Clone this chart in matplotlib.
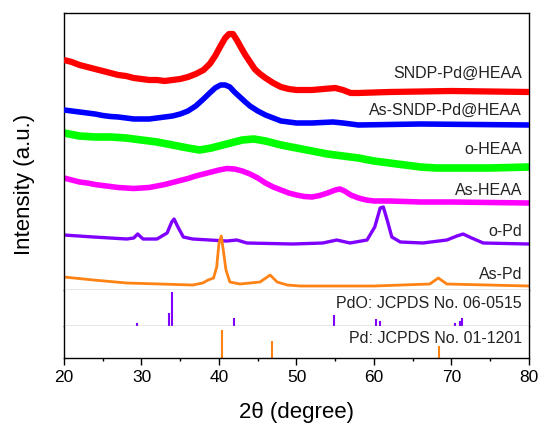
import matplotlib.pyplot as plt

plt.rcParams['font.family'] = ['Liberation Sans', 'DejaVu Sans']

# SNDP-Pd@HEAA (red)
red_x = [20, 21, 22, 23, 24, 25, 26, 27, 28, 29, 30, 31, 32, 33, 34, 35, 36, 37, 38, 38.8,
         39.5, 40.2, 40.8, 41.3, 41.8, 42.3, 42.8, 43.4, 44, 44.6, 45.3, 46, 47, 48, 49, 50,
         52, 53.5, 55, 56, 57, 58, 62, 70, 80]
red_y = [230, 228, 225, 223, 221, 219, 217, 215, 214, 212, 211, 210, 210, 209, 210, 211, 213,
         216, 220, 226, 234, 244, 252, 256, 256, 250, 243, 235, 228, 221, 216, 212, 207, 203,
         201, 200, 200, 201, 202, 200, 197, 197, 198, 199, 198]

# As-SNDP-Pd@HEAA (blue)
blue_x = [20, 21, 22, 23, 24, 25, 26, 27, 28, 29, 30, 31, 32, 33, 34, 35, 36, 37, 38, 38.8,
          39.5, 40.2, 40.8, 41.4, 42, 42.7, 43.4, 44, 45, 46, 47, 48, 49, 50, 52, 54.7, 56, 58,
          66, 80]
blue_y = [180, 179, 178, 177, 176, 174.5, 173.5, 173, 172, 171, 171, 171, 172, 173, 174, 176,
          179, 184, 191, 197, 202, 205, 205, 203, 198, 193, 188, 184, 179, 175, 172, 169, 168,
          167, 167, 168, 167, 165, 166, 165]

# o-HEAA (green)
green_x = [20, 22, 24, 26, 28, 30, 32, 34, 36, 37.5, 39, 41, 43, 44.5, 46, 48, 50, 52, 54, 56,
           58, 60, 62, 64, 66, 68, 70, 75, 80]
green_y = [157, 154, 153, 153, 152, 150, 148, 145, 142, 140, 142, 146, 150, 151, 149, 145, 142,
           139, 136, 134, 132, 129, 127, 125, 123, 122, 122, 122, 123]

# As-HEAA (magenta)
mag_x = [20, 21, 22, 23, 24, 25, 26, 27, 28, 29, 30, 31, 32, 33, 34, 35, 36, 37, 38, 39, 40,
         41, 42, 43, 44, 45, 46, 47, 48, 49, 50, 51, 52, 53, 54, 55, 55.6, 56.2, 57, 58, 59, 60,
         62, 66, 70, 75, 80]
mag_y = [112, 110, 108, 107, 105.5, 104.5, 103.5, 102.5, 102, 101.5, 102, 102.5, 104, 105.5,
         107.5, 109.5, 111.5, 114, 116, 118, 120, 121.5, 121, 119, 116, 112, 107, 103, 100, 97,
         95, 93.5, 93, 94.5, 97, 100, 101, 99, 95, 92, 90, 89, 89, 88, 88, 87.5, 87]

# o-Pd (purple)
opd_x = [20, 23.8, 28.1, 29.0, 29.5, 30.2, 32, 33.3, 33.9, 34.2, 34.7, 35.4, 36.6, 41, 42.3,
         43.6, 49.5, 53.4, 55.2, 56.9, 59.1, 60.1, 60.8, 61.2, 61.7, 62.3, 63.4, 66.3, 69.4,
         70.7, 71.5, 72.6, 74.1, 80]
opd_y = [55, 53, 51, 52, 56, 51, 51, 57, 68, 71, 63, 53, 51, 49, 50,
         47, 46, 47, 50, 47, 50, 63, 82, 83, 70, 53, 48, 47, 50,
         54, 56, 52, 47, 46]

# As-Pd (orange)
aspd_x = [20, 23.8, 28.1, 32.4, 36.6, 37.9, 38.6, 39.3, 39.7, 40.0, 40.3, 40.5, 40.9, 41.4, 42.7,
          45.3, 46.6, 47.5, 48.8, 50.5, 60, 67.2, 68.3, 69.4, 80]
aspd_y = [13, 10, 7, 6, 5, 7, 10, 12, 23, 47, 54, 43, 20, 8, 6,
          8, 15, 8, 5, 4, 4, 6, 12, 6, 4]

# reference sticks
pdo_pos = [29.4, 33.6, 33.9, 41.9, 54.8, 60.2, 60.8, 70.5, 71.1, 71.4]
pdo_int = [3, 13, 34, 8, 11, 7, 5, 3, 5, 8]
pd_pos = [40.4, 46.8, 68.4]
pd_int = [28, 17, 12]

labels = ['SNDP-Pd@HEAA', 'As-SNDP-Pd@HEAA', 'o-HEAA', 'As-HEAA', 'o-Pd', 'As-Pd']
label_y = [217, 180, 140, 100, 59, 16]

fig = plt.figure(figsize=(5.41, 4.23), dpi=100)
left, width = 0.1183, 0.8595
ax = fig.add_axes([left, 0.3144, width, 0.6549])
ax_pdo = fig.add_axes([left, 0.2293, width, 0.0851])
ax_pd = fig.add_axes([left, 0.1537, width, 0.0756])

style = dict(solid_joinstyle='round', solid_capstyle='butt')
ax.plot(opd_x, opd_y, color='#8000ff', lw=2.4, zorder=1, **style)
ax.plot(aspd_x, aspd_y, color='#ff8214', lw=2.0, zorder=2, **style)
ax.plot(mag_x, mag_y, color='#ff00ff', lw=4.0, zorder=2, **style)
ax.plot(green_x, green_y, color='#00ff00', lw=5.5, zorder=2, **style)
ax.plot(blue_x, blue_y, color='#0000ff', lw=4.0, zorder=3, **style)
ax.plot(red_x, red_y, color='#ff0000', lw=4.5, zorder=4, **style)

for lab, yy in zip(labels, label_y):
    ax.text(79.1, yy, lab, ha='right', va='center', fontsize=11.5, color='#222222')

ax.set_xlim(20, 80)
ax.set_ylim(0, 277)

ax_pdo.vlines(pdo_pos, 0, pdo_int, color='#8000ff', lw=1.5)
ax_pdo.set_xlim(20, 80)
ax_pdo.set_ylim(0, 36)
ax_pdo.text(79.1, 23, 'PdO: JCPDS No. 06-0515', ha='right', va='center', fontsize=11.5, color='#222222')

ax_pd.vlines(pd_pos, 0, pd_int, color='#ff8214', lw=1.5)
ax_pd.set_xlim(20, 80)
ax_pd.set_ylim(0, 32)
ax_pd.text(79.1, 19, 'Pd: JCPDS No. 01-1201', ha='right', va='center', fontsize=11.5, color='#222222')

for a in (ax, ax_pdo, ax_pd):
    a.set_yticks([])
    a.tick_params(axis='x', which='both', bottom=False, labelbottom=False)
    for s in a.spines.values():
        s.set_linewidth(1.0)
        s.set_color('black')

# gray dividers between panels
ax.spines['bottom'].set_color('#888888')
ax_pdo.spines['top'].set_visible(False)
ax_pdo.spines['bottom'].set_color('#888888')
ax_pd.spines['top'].set_visible(False)

ax_pd.set_xticks([20, 30, 40, 50, 60, 70, 80])
ax_pd.set_xticks([25, 35, 45, 55, 65, 75], minor=True)
ax_pd.tick_params(axis='x', which='both', bottom=True, labelbottom=True, direction='out')
ax_pd.tick_params(axis='x', which='major', length=5, width=1, labelsize=12.5, pad=4)
ax_pd.tick_params(axis='x', which='minor', length=2.5, width=1)

fig.text(0.548, 0.026, '2θ (degree)', ha='center', va='center', fontsize=16)
fig.text(0.046, 0.563, 'Intensity (a.u.)', ha='center', va='center', rotation=90, fontsize=16)

fig.savefig('out.png', dpi=100)
